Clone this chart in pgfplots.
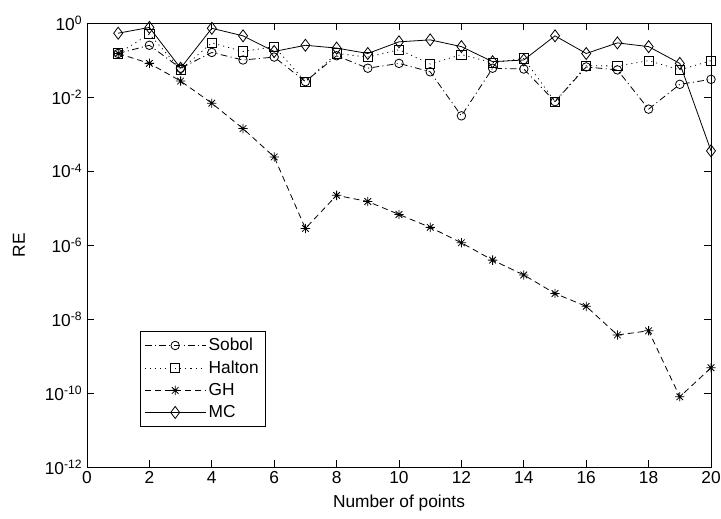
\documentclass[border=0pt]{standalone}
\usepackage{fontspec}
\setmainfont{Liberation Sans}
\usepackage{pgfplots}
\pgfplotsset{compat=1.18}
\pgfdeclareplotmark{mstar}{%
 \pgfpathmoveto{\pgfqpoint{-\pgfplotmarksize}{0pt}}\pgfpathlineto{\pgfqpoint{\pgfplotmarksize}{0pt}}%
 \pgfpathmoveto{\pgfqpoint{0pt}{-\pgfplotmarksize}}\pgfpathlineto{\pgfqpoint{0pt}{\pgfplotmarksize}}%
 \pgfpathmoveto{\pgfqpoint{-.707\pgfplotmarksize}{-.707\pgfplotmarksize}}\pgfpathlineto{\pgfqpoint{.707\pgfplotmarksize}{.707\pgfplotmarksize}}%
 \pgfpathmoveto{\pgfqpoint{-.707\pgfplotmarksize}{.707\pgfplotmarksize}}\pgfpathlineto{\pgfqpoint{.707\pgfplotmarksize}{-.707\pgfplotmarksize}}%
 \pgfusepathqstroke}
\newcommand{\fnt}{\fontsize{13}{15}\selectfont}
\begin{document}
\begin{tikzpicture}
\useasboundingbox (0,0) rectangle (540.75pt,388.5pt);
\begin{axis}[
  at={(65.25pt,38.25pt)}, anchor=south west,
  scale only axis, width=468pt, height=333pt,
  ymode=log, xmin=0, xmax=20, ymin=1e-12, ymax=1,
  xtick={0,2,...,20},
  ytick={1e-12,1e-10,1e-8,1e-6,1e-4,1e-2,1},
  yticklabels={10\textsuperscript{-12},10\textsuperscript{-10},10\textsuperscript{-8},10\textsuperscript{-6},10\textsuperscript{-4},10\textsuperscript{-2},10\textsuperscript{0}},
  minor ytick={}, yminorticks=false,
  tick align=inside, major tick length=5pt,
  tick style={black, line width=0.6pt},
  axis line style={line width=0.6pt},
  every tick label/.append style={font=\fnt},
  /pgf/number format/assume math mode=true,
  xlabel={Number of points}, ylabel={RE},
  label style={font=\fnt},
  ylabel shift=8pt, xlabel shift=1pt,
  legend style={at={(0.085,0.306)}, anchor=north west, draw=black, line width=0.6pt, font=\fnt, row sep=2pt, inner xsep=3pt, inner ysep=3pt},
  legend cell align=left,
  legend image code/.code={\draw[mark repeat=2,mark phase=2,#1] plot coordinates {(0cm,0cm) (0.8cm,0cm) (1.6cm,0cm)};},
  every axis plot/.append style={black, line width=0.6pt},
]
\addplot[dash pattern=on 5pt off 2.5pt on 0.8pt off 2.5pt, mark=o, mark size=3.2pt, mark options={solid}] coordinates {
(1,0.15) (2,0.25) (3,0.06) (4,0.16) (5,0.1) (6,0.12) (7,0.026) (8,0.13) (9,0.06) (10,0.081)
(11,0.048) (12,0.0031) (13,0.06) (14,0.057) (15,0.0075) (16,0.065) (17,0.054) (18,0.0047) (19,0.022) (20,0.03)};
\addlegendentry{Sobol}
\addplot[dash pattern=on 0.8pt off 3pt, mark=square, mark size=3.5pt, mark options={solid}] coordinates {
(1,0.15) (2,0.5) (3,0.055) (4,0.29) (5,0.17) (6,0.23) (7,0.026) (8,0.15) (9,0.12) (10,0.19)
(11,0.078) (12,0.14) (13,0.085) (14,0.11) (15,0.0075) (16,0.07) (17,0.069) (18,0.096) (19,0.054) (20,0.096)};
\addlegendentry{Halton}
\addplot[dash pattern=on 4.5pt off 3pt, mark=mstar, mark size=3.5pt, mark options={solid}] coordinates {
(1,0.15) (2,0.081) (3,0.027) (4,0.0068) (5,0.0014) (6,2.4e-4) (7,2.8e-6) (8,2.2e-5) (9,1.5e-5) (10,6.7e-6)
(11,3.0e-6) (12,1.15e-6) (13,3.9e-7) (14,1.55e-7) (15,4.9e-8) (16,2.2e-8) (17,3.7e-9) (18,4.8e-9) (19,7.9e-11) (20,4.8e-10)};
\addlegendentry{GH}
\addplot[solid, mark=diamond, mark size=4.5pt] coordinates {
(1,0.53) (2,0.76) (3,0.06) (4,0.72) (5,0.45) (6,0.17) (7,0.25) (8,0.21) (9,0.15) (10,0.31)
(11,0.35) (12,0.23) (13,0.09) (14,0.1) (15,0.45) (16,0.15) (17,0.29) (18,0.23) (19,0.081) (20,3.5e-4)};
\addlegendentry{MC}
\end{axis}
\end{tikzpicture}
\end{document}
